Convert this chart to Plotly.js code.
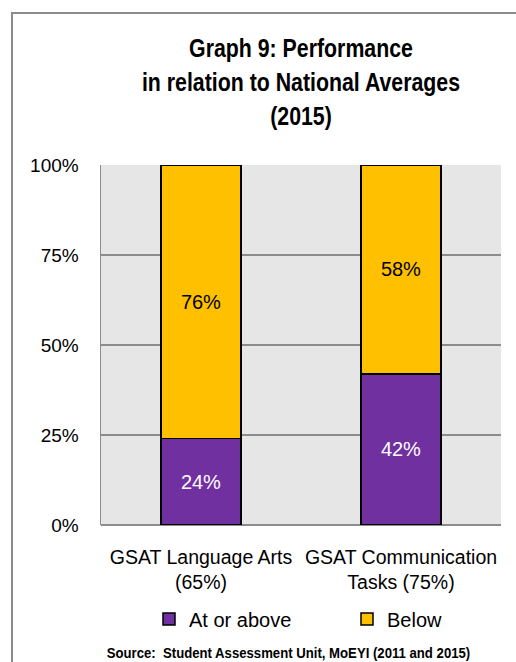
<!DOCTYPE html>
<html>
<head>
<meta charset="utf-8">
<script src="https://cdn.plot.ly/plotly-3.0.1.min.js"></script>
<style>
html,body{margin:0;padding:0;background:#fff;}
#chart{width:516px;height:662px;}
</style>
</head>
<body>
<div id="chart"></div>
<script>
var categories = ["GSAT Language Arts<br>(65%)", "GSAT Communication<br>Tasks (75%)"];
var atOrAbove = [0.24, 0.42];
var below = [0.76, 0.58];
var seriesNames = ["At or above", "Below"];
var titleText = "<b>Graph 9: Performance<br>in relation to National Averages<br>(2015)</b>";
var sourceText = "<b>Source:  Student Assessment Unit, MoEYI (2011 and 2015)</b>";

function pct(v){ return Math.round(v*100) + "%"; }

var FONT = "Liberation Sans, Arial, sans-serif";

var traces = [
  {
    type: "bar", name: seriesNames[0], x: categories, y: atOrAbove,
    text: atOrAbove.map(pct), textposition: "inside", insidetextanchor: "middle",
    textfont: {color: "#ffffff", size: 20, family: FONT},
    marker: {color: "#7030A0", line: {color: "#000000", width: 1.5}},
    width: 0.4, hoverinfo: "skip"
  },
  {
    type: "bar", name: seriesNames[1], x: categories, y: below,
    text: below.map(pct), textposition: "inside", insidetextanchor: "middle",
    textfont: {color: "#000000", size: 20, family: FONT},
    marker: {color: "#FFC000", line: {color: "#000000", width: 1.5}},
    width: 0.4, hoverinfo: "skip"
  }
];

var L = 101, T = 165, PW = 400, PH = 360;
function px(x){ return (x - L) / PW; }
function py(y){ return (T + PH - y) / PH; }

var layout = {
  width: 516, height: 662,
  margin: {l: L, r: 516 - L - PW, t: T, b: 662 - T - PH, pad: 0, autoexpand: false},
  paper_bgcolor: "#ffffff",
  plot_bgcolor: "#e6e6e6",
  barmode: "stack",
  font: {family: FONT, color: "#000000", size: 19},
  title: {
    text: titleText,
    font: {family: FONT, size: 26, color: "#000000"},
    x: 0.5, xref: "paper", xanchor: "center",
    y: 1 - 57/662, yanchor: "middle"
  },
  xaxis: {
    type: "category",
    showgrid: false, zeroline: false, showline: false,
    ticks: "", tickfont: {size: 19.5, family: FONT},
    ticklabelstandoff: 18,
    fixedrange: true
  },
  yaxis: {
    range: [0, 1], dtick: 0.25, tickformat: ".0%",
    showgrid: true, gridcolor: "#8c8c8c", gridwidth: 1.5,
    zeroline: true, zerolinecolor: "#8c8c8c", zerolinewidth: 1.5,
    showline: true, linecolor: "#8c8c8c", linewidth: 1.5,
    ticks: "", tickfont: {size: 19, family: FONT},
    ticklabelstandoff: 17,
    fixedrange: true
  },
  showlegend: true,
  legend: {
    orientation: "h",
    x: px(149), xanchor: "left",
    y: py(619), yanchor: "middle",
    font: {size: 20, family: FONT},
    entrywidth: 153, entrywidthmode: "pixels",
    bgcolor: "rgba(0,0,0,0)", traceorder: "normal"
  },
  annotations: [
    {
      text: sourceText, showarrow: false,
      xref: "paper", yref: "paper",
      x: px(288), y: py(653), xanchor: "center", yanchor: "middle",
      font: {size: 14, family: FONT, color: "#000000"}
    }
  ],
  shapes: [
    {
      type: "rect", xref: "paper", yref: "paper",
      x0: px(12), x1: px(530), y0: py(680), y1: py(13),
      line: {color: "#8c8c8c", width: 2}, fillcolor: "rgba(0,0,0,0)", layer: "below"
    }
  ]
};

function condense(el, s){
  if (!el) return;
  var bb = el.getBBox();
  var cx = bb.x + bb.width / 2;
  var prev = el.getAttribute("transform") || "";
  el.setAttribute("transform", prev + " translate(" + cx + ",0) scale(" + s + ",1) translate(" + (-cx) + ",0)");
}

Plotly.newPlot("chart", traces, layout, {displayModeBar: false, staticPlot: true}).then(function(gd){
  condense(gd.querySelector("text.gtitle"), 0.82);
  condense(gd.querySelector(".annotation-text"), 0.94);
});
</script>
</body>
</html>
